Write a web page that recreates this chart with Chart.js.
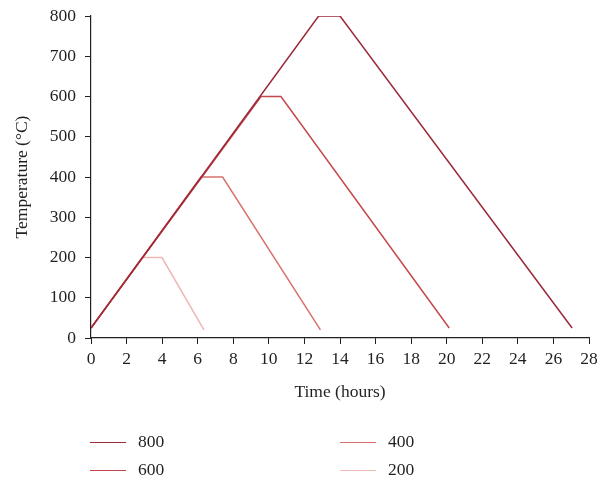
<!DOCTYPE html>
<html>
<head>
<meta charset="utf-8">
<script src="https://cdn.jsdelivr.net/npm/chart.js@4/dist/chart.umd.min.js"></script>
<style>
body{margin:0;background:#fff;}
#wrap{position:relative;width:599px;height:479px;}
.leg{position:absolute;font-family:"Liberation Serif",serif;font-size:17.5px;color:#231f20;line-height:20px;}
.leg span{display:inline-block;width:36px;height:0;border-top:1.5px solid;vertical-align:middle;margin-right:12px;}
</style>
</head>
<body>
<div id="wrap">
<canvas id="c" width="599" height="479"></canvas>
</div>
<script>
// peak temperature of each run
var seriesNames = ["800", "600", "400", "200"];
var seriesColors = ["#9b2a39", "#c4484b", "#d9716e", "#ebb8b3"];
// time (hours) / temperature (°C) of each run
var time800 = [0, 12.8, 14.0, 27.05];
var temp800 = [25, 800, 800, 25];
var time600 = [0, 9.56, 10.68, 20.14];
var temp600 = [25, 600, 600, 25];
var time400 = [0, 6.18, 7.4, 12.9];
var temp400 = [25, 400, 400, 20];
var time200 = [0, 2.87, 3.99, 6.35];
var temp200 = [25, 200, 200, 20];
var xTicks = [0, 28, 2];
var yTicks = [0, 800, 100];

var times = [time800, time600, time400, time200];
var temps = [temp800, temp600, temp400, temp200];

function points(xs, ys){
	var out = [];
	for (var i = 0; i < xs.length; i++) out.push({x: xs[i], y: ys[i]});
	return out;
}

var sets = [];
for (var k = 0; k < seriesNames.length; k++){
	sets.push({
		label: seriesNames[k],
		data: points(times[k], temps[k]),
		borderColor: seriesColors[k],
		borderWidth: 1.5,
		pointRadius: 0,
		tension: 0,
		fill: false
	});
}

var font = {family: "'Liberation Serif', serif", size: 17.5};
var ink = "#231f20";

new Chart(document.getElementById("c"), {
	type: "line",
	data: {datasets: sets},
	options: {
		responsive: false,
		animation: false,
		layout: {padding: {top: 16, right: 10, bottom: 72, left: 8}},
		plugins: {legend: {display: false}, tooltip: {enabled: false}},
		scales: {
			x: {
				type: "linear",
				min: xTicks[0], max: xTicks[1],
				ticks: {stepSize: xTicks[2], color: ink, font: font, padding: 5, maxRotation: 0},
				grid: {drawOnChartArea: false, tickLength: 6, color: ink},
				border: {color: ink, width: 1.2},
				title: {display: true, text: "Time (hours)", color: ink, font: font, padding: {top: 12}},
				afterFit: function(s){ s.height = 69; s.paddingLeft = 0; s.paddingRight = 0; }
			},
			y: {
				min: yTicks[0], max: yTicks[1],
				ticks: {stepSize: yTicks[2], color: ink, font: font, padding: 9},
				grid: {drawOnChartArea: false, tickLength: 6, color: ink},
				border: {color: ink, width: 1.2},
				title: {display: true, text: "Temperature (°C)", color: ink, font: font, padding: {bottom: 6}},
				afterFit: function(s){ s.width = 83; s.paddingTop = 0; s.paddingBottom = 0; }
			}
		}
	}
});

// two-column legend under the plot
var legPos = [[90, 431], [90, 459], [340, 431], [340, 459]];
var wrap = document.getElementById("wrap");
for (var j = 0; j < seriesNames.length; j++){
	var d = document.createElement("div");
	d.className = "leg";
	d.style.left = legPos[j][0] + "px";
	d.style.top = legPos[j][1] + "px";
	d.innerHTML = '<span style="border-color:' + seriesColors[j] + '"></span>' + seriesNames[j];
	wrap.appendChild(d);
}
</script>
</body>
</html>
